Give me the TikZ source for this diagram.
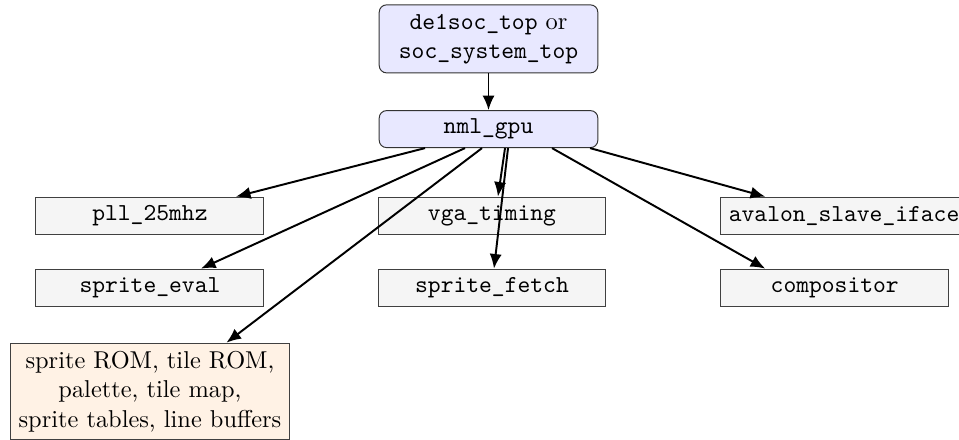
\documentclass[tikz,border=0pt]{standalone}
\usepackage{amsmath}
\usepackage{xcolor}
\usetikzlibrary{positioning,arrows.meta}

\tikzset{
	topbox/.style={draw=black!80, fill=blue!9, rounded corners=3pt, minimum width=3.15cm, align=center},
	unitbox/.style={draw=black!75, fill=gray!8, minimum width=3.285cm, minimum height=0.533cm, font=\ttfamily},
	membox/.style={draw=black!75, fill=orange!10, align=center},
	link/.style={thick, -{Latex[length=6pt, width=5pt]}}
}

\begin{document}
\begin{tikzpicture}[node distance=0.5cm]
			\useasboundingbox (0,0) rectangle (13.82,-6.34);

			\node[topbox, minimum height=0.98cm] (top) at (7.04,-0.56) {\texttt{de1soc\_top} or\\\texttt{soc\_system\_top}};
			\node[topbox, minimum height=0.533cm] (gpu)[below=0.53cm of top] {\texttt{nml\_gpu}};

			\node[unitbox] (vga)[below=0.7cm of gpu, xshift=0.05cm] {vga\_timing};
			\node[unitbox] (pll)[left=1.63cm of vga] {pll\_25mhz};
			\node[unitbox] (avalon)[right=1.64cm of vga] {avalon\_slave\_iface};

			\node[unitbox] (fetch)[below=0.49cm of vga] {sprite\_fetch};
			\node[unitbox] (eval)[left=1.63cm of fetch] {sprite\_eval};
			\node[unitbox] (comp)[right=1.64cm of fetch] {compositor};

			\node[membox] (mem)[below=0.52cm of eval] {sprite ROM, tile ROM,\\palette, tile map,\\sprite tables, line buffers};

			\path[link]
				(top) edge (gpu)

				([xshift=-0.915cm]gpu.south) edge ([xshift=1.239cm]pll.north)
				([xshift=-0.339cm]gpu.south) edge ([xshift=0.735cm]eval.north)
				([xshift=-0.094cm]gpu.south) edge ([xshift=1.102cm]mem.north)
				([xshift=0.238cm]gpu.south) edge ([xshift=0.086cm]vga.north)
				([xshift=0.281cm]gpu.south) edge ([xshift=0.029cm]fetch.north)
				([xshift=0.915cm]gpu.south) edge ([xshift=0.648cm]comp.north west)
				([xshift=1.463cm]gpu.south) edge ([xshift=0.648cm]avalon.north west)
			;
		\end{tikzpicture}
\end{document}
